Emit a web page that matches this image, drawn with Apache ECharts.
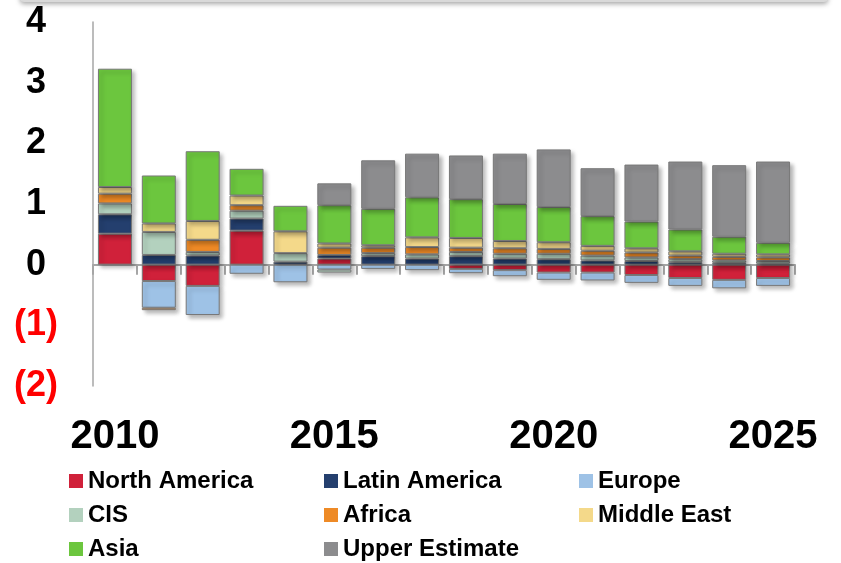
<!DOCTYPE html>
<html>
<head>
<meta charset="utf-8">
<script src="https://cdn.jsdelivr.net/npm/echarts@6/dist/echarts.min.js"></script>
<style>
html,body{margin:0;padding:0;background:#fff;}
#c{width:841px;height:563px;}
</style>
</head>
<body>
<div id="c"></div>
<script>
const years = ['2010','2011','2012','2013','2014','2015','2016','2017','2018','2019','2020','2021','2022','2023','2024','2025'];
const northAmerica = [0.51,-0.27,-0.35,0.56,0,0.10,0,0,-0.07,-0.09,-0.13,-0.13,-0.17,-0.22,-0.25,-0.22];
const latinAmerica = [0.32,0.16,0.15,0.20,0.05,0.06,0.14,0.10,0.14,0.10,0.09,0.07,0.06,0.04,0.03,0.02];
const europe = [0,-0.44,-0.48,-0.15,-0.29,-0.08,-0.07,-0.09,-0.07,-0.10,-0.12,-0.13,-0.13,-0.13,-0.14,-0.13];
const cis = [0.18,0.38,0.06,0.13,0.14,-0.05,0.05,0.07,0.07,0.08,0.09,0.08,0.06,0.05,0.04,0.04];
const africa = [0.16,-0.04,0.20,0.09,0,0.12,0.09,0.12,0.07,0.09,0.08,0.08,0.08,0.06,0.06,0.06];
const middleEast = [0.11,0.14,0.31,0.16,0.36,0.07,0.04,0.16,0.16,0.12,0.11,0.08,0.07,0.07,0.05,0.05];
const asia = [1.95,0.79,1.15,0.44,0.42,0.63,0.60,0.66,0.64,0.61,0.58,0.49,0.44,0.36,0.28,0.19];
const upperEstimate = [0,0,0,0,0,0.36,0.80,0.72,0.72,0.83,0.95,0.79,0.94,1.12,1.18,1.34];

const seriesNames = ['North America','Latin America','Europe','CIS','Africa','Middle East','Asia','Upper Estimate'];
const seriesData = [northAmerica, latinAmerica, europe, cis, africa, middleEast, asia, upperEstimate];
const colors = ['#D0213A','#243F6E','#9EC2E6','#B3D1BE','#EE8A26','#F4D98A','#6CC63E','#8C8C8E'];
const yTicks = {min:-2, max:4, interval:1};

const FONT = '"Liberation Sans", Arial, sans-serif';

const chart = echarts.init(document.getElementById('c'), null, {renderer:'canvas'});
chart.setOption({
  animation:false,
  color: colors,
  grid:{left:93, right:46, top:22, bottom:177},
  graphic:[{
    type:'rect', shape:{x:20, y:-8, width:808, height:10, r:4},
    style:{fill:'#d9d9d9', shadowBlur:5, shadowOffsetY:2, shadowColor:'rgba(0,0,0,0.35)'}
  }],
  legend:{
    data: seriesNames,
    orient:'horizontal',
    left:69, top:464, width:780, padding:0,
    itemWidth:14, itemHeight:14, itemGap:0,
    icon:'rect',
    itemStyle:{borderWidth:0, shadowBlur:0},
    textStyle:{fontFamily:FONT, fontWeight:'bold', fontSize:24, color:'#000', width:236, lineHeight:34}
  },
  xAxis:[{
    type:'category', data: years,
    axisLine:{onZero:true, lineStyle:{color:'#a6a6a6', width:2}},
    axisTick:{show:true, interval:0, length:10, lineStyle:{color:'#a6a6a6', width:2}},
    axisLabel:{show:false},
    splitLine:{show:false}
  },{
    type:'category', data: years, position:'bottom',
    axisLine:{show:false, onZero:false},
    axisTick:{show:false},
    axisLabel:{interval:4, margin:31, fontFamily:FONT, fontWeight:'bold', fontSize:40, color:'#000'},
    splitLine:{show:false}
  }],
  yAxis:{
    type:'value', min:yTicks.min, max:yTicks.max, interval:yTicks.interval,
    axisLine:{show:true, lineStyle:{color:'#a6a6a6', width:1.5}},
    axisTick:{show:false},
    splitLine:{show:false},
    axisLabel:{
      margin:35, fontFamily:FONT, fontWeight:'bold', fontSize:36,
      formatter: v => v < 0 ? '{neg|(' + (-v) + ')}' : '{pos|' + v + '}',
      rich:{
        neg:{color:'#FF0000', fontFamily:FONT, fontWeight:'bold', fontSize:36},
        pos:{color:'#000', fontFamily:FONT, fontWeight:'bold', fontSize:36, padding:[0,12,0,0]}
      }
    }
  },
  series: seriesNames.map((name,i) => ({
    name, type:'bar', stack:'total', xAxisIndex:0, barWidth:34,
    data: seriesData[i].map(v => v === 0 ? null : v),
    itemStyle:{
      color: colors[i], borderColor:'#787878', borderWidth:1,
      shadowBlur:4, shadowOffsetX:3, shadowOffsetY:3, shadowColor:'rgba(0,0,0,0.28)'
    }
  }))
});
</script>
</body>
</html>
